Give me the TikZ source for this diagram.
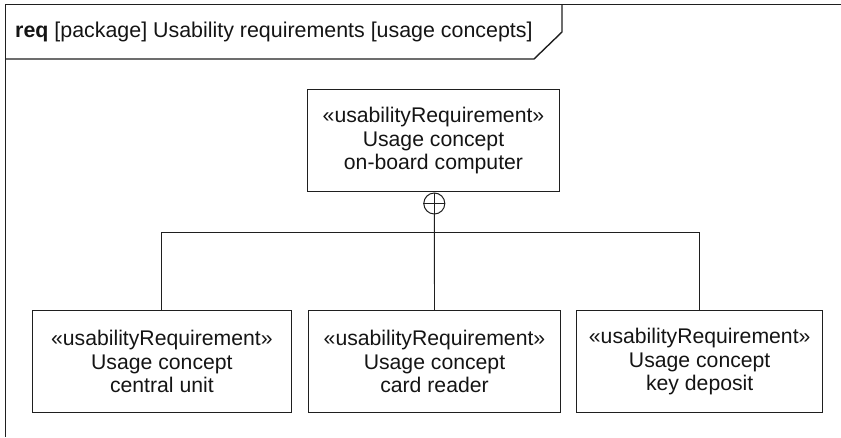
\documentclass[tikz,border=0pt]{standalone}
\usepackage{fontspec}
\setmainfont{Liberation Sans}
\begin{document}
\begin{tikzpicture}[x=1pt,y=-1pt,
  ink/.style={draw=black!88},
  reqbox/.style={ink, line width=1.1pt, align=center, inner sep=0pt, text=black!92,
    font=\fontsize{21.2}{23.6}\selectfont},
  conn/.style={ink, line width=0.9pt},
  frameline/.style={ink, line width=1.4pt}]
\useasboundingbox (0,0) rectangle (841,437);
% frame
\draw[frameline] (841,4.5) -- (5.5,4.5) -- (5.5,437);
\draw[frameline] (5.5,59) -- (534,59) -- (562,32) -- (562,4.5);
\node[anchor=base west, inner sep=0pt, text=black!92, font=\fontsize{21.4}{24}\selectfont] (title) at (15,37)
  {\textbf{req} [package] Usability requirements [usage concepts]};
% boxes
\node[reqbox, minimum width=251.6pt, minimum height=101.7pt] (top) at (433.5,140.6)
  {«usabilityRequirement»\\Usage concept\\on-board computer};
\node[reqbox, minimum width=258.3pt, minimum height=102pt] (b1) at (161.9,361.7)
  {«usabilityRequirement»\\Usage concept\\central unit};
\node[reqbox, minimum width=252.4pt, minimum height=102pt] (b2) at (434.5,361.7)
  {«usabilityRequirement»\\Usage concept\\card reader};
\node[reqbox, minimum width=246pt, minimum height=102pt] (b3) at (699.7,361.7)
  {«usabilityRequirement»\\Usage concept\\key deposit};
% containment
\node[circle, ink, line width=1pt, minimum size=21pt, inner sep=0pt] (circ) at (434.3,203.5) {};
\draw[conn] (circ.north) -- (circ.south);
\draw[conn] (circ.west) -- (circ.east);
\coordinate (junction) at (434.5,232.7);
\draw[conn] (circ.south) -- (b2.north);
\draw[conn] (b1.north) |- (junction) -| (b3.north);
\end{tikzpicture}
\end{document}
